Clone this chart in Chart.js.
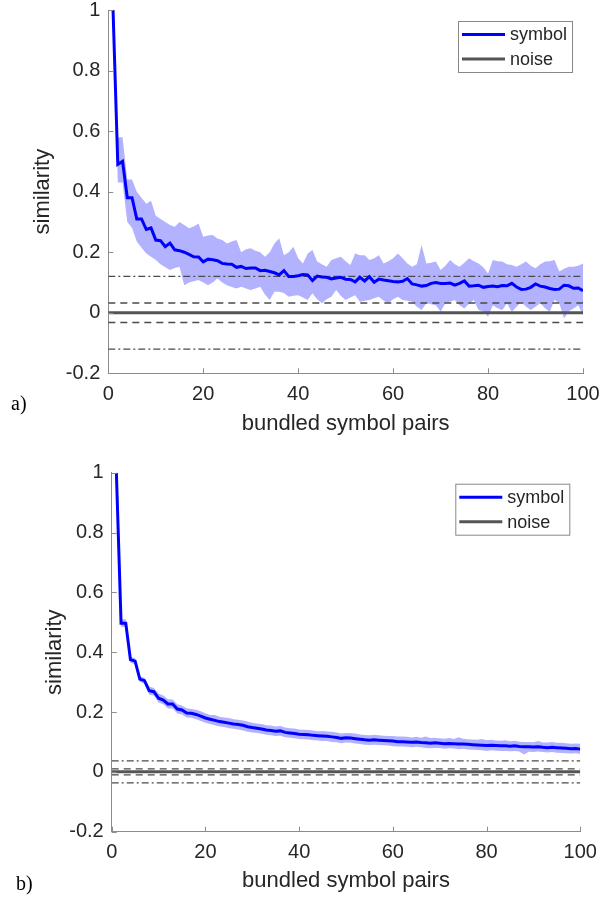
<!DOCTYPE html>
<html>
<head>
<meta charset="utf-8">
<script src="https://cdn.jsdelivr.net/npm/chart.js@4"></script>
<style>
  body { margin: 0; background: #fff; }
  #wrap { position: relative; width: 615px; height: 899px; }
  canvas { position: absolute; left: 0; }
  .tag { position: absolute; font-family: "Liberation Serif", serif; font-size: 20px; color: #000; }
</style>
</head>
<body>
<div id="wrap">
  <canvas id="chartA" width="615" height="450" style="top:0"></canvas>
  <canvas id="chartB" width="615" height="449" style="top:450px"></canvas>
  <div class="tag" style="left:11px; top:392px">a)</div>
  <div class="tag" style="left:16px; top:872px">b)</div>
</div>
<script>
// Данные: число пар символов (ось X)
const pairs = Array.from({ length: 100 }, (_, i) => i + 1);
const xTicks = [0, 20, 40, 60, 80, 100];
const yTicks = [-0.2, 0, 0.2, 0.4, 0.6, 0.8, 1];

// Рисунок a) - среднее и границы полосы
const meanA = [1.0, 0.49, 0.50, 0.38, 0.38, 0.31, 0.31, 0.275, 0.28, 0.24,
  0.238, 0.218, 0.23, 0.208, 0.205, 0.2, 0.193, 0.185, 0.184, 0.168,
  0.177, 0.175, 0.172, 0.163, 0.161, 0.16, 0.15, 0.153, 0.146, 0.148,
  0.148, 0.139, 0.14, 0.136, 0.132, 0.125, 0.139, 0.12, 0.12, 0.122,
  0.126, 0.125, 0.106, 0.121, 0.118, 0.117, 0.112, 0.115, 0.117, 0.111,
  0.11, 0.102, 0.117, 0.105, 0.119, 0.101, 0.111, 0.108, 0.106, 0.103,
  0.102, 0.104, 0.113, 0.095, 0.092, 0.088, 0.09, 0.097, 0.1, 0.097,
  0.097, 0.098, 0.091, 0.097, 0.105, 0.088, 0.089, 0.091, 0.084, 0.087,
  0.088, 0.086, 0.09, 0.089, 0.097, 0.085, 0.077, 0.078, 0.084, 0.095,
  0.088, 0.085, 0.08, 0.077, 0.078, 0.091, 0.089, 0.081, 0.082, 0.073];
const upperA = [1.0, 0.58, 0.58, 0.44, 0.44, 0.4, 0.38, 0.36, 0.37, 0.32,
  0.31, 0.3, 0.29, 0.284, 0.3, 0.29, 0.279, 0.285, 0.295, 0.251,
  0.255, 0.257, 0.245, 0.24, 0.229, 0.235, 0.24, 0.2, 0.21, 0.213,
  0.205, 0.2, 0.185, 0.2, 0.229, 0.246, 0.19, 0.2, 0.218, 0.18,
  0.163, 0.196, 0.207, 0.169, 0.16, 0.152, 0.174, 0.18, 0.185, 0.17,
  0.158, 0.196, 0.19, 0.19, 0.174, 0.18, 0.19, 0.163, 0.17, 0.18,
  0.196, 0.18, 0.163, 0.152, 0.16, 0.224, 0.163, 0.165, 0.169, 0.141,
  0.155, 0.174, 0.16, 0.152, 0.165, 0.18, 0.17, 0.163, 0.15, 0.13,
  0.174, 0.17, 0.169, 0.16, 0.158, 0.152, 0.16, 0.169, 0.155, 0.147,
  0.16, 0.169, 0.17, 0.174, 0.136, 0.145, 0.152, 0.152, 0.155, 0.163];
const lowerA = [1.0, 0.43, 0.43, 0.30, 0.28, 0.235, 0.215, 0.196, 0.185, 0.174,
  0.16, 0.15, 0.141, 0.148, 0.152, 0.091, 0.1, 0.104, 0.108, 0.1,
  0.091, 0.1, 0.113, 0.1, 0.091, 0.085, 0.08, 0.086, 0.08, 0.075,
  0.08, 0.086, 0.06, 0.042, 0.069, 0.069, 0.065, 0.053, 0.056, 0.058,
  0.05, 0.042, 0.064, 0.045, 0.031, 0.045, 0.053, 0.075, 0.055, 0.042,
  0.05, 0.058, 0.036, 0.04, 0.042, 0.048, 0.053, 0.04, 0.031, 0.045,
  0.053, 0.042, 0.04, 0.036, 0.02, 0.009, 0.031, 0.028, 0.025, 0.003,
  0.031, 0.036, 0.042, 0.025, 0.014, 0.03, 0.042, 0.009, 0.005, -0.013,
  0.025, 0.015, 0.009, 0.031, 0.003, 0.02, 0.036, 0.02, 0.009, 0.02,
  0.031, 0.015, 0.003, 0.042, 0.031, -0.019, 0.005, 0.014, 0.025, -0.008];
const noiseA = { dashed: 0.032, dashDot: 0.12 };

// Рисунок b)
const meanB = [1.0, 0.497, 0.497, 0.375, 0.37, 0.31, 0.305, 0.271, 0.268, 0.246,
  0.24, 0.227, 0.227, 0.21, 0.207, 0.197, 0.196, 0.192, 0.186, 0.18,
  0.176, 0.172, 0.168, 0.166, 0.163, 0.16, 0.158, 0.156, 0.151, 0.148,
  0.146, 0.143, 0.14, 0.138, 0.136, 0.137, 0.132, 0.13, 0.128, 0.126,
  0.125, 0.124, 0.122, 0.121, 0.12, 0.119, 0.117, 0.115, 0.112, 0.114,
  0.113, 0.111, 0.109, 0.107, 0.106, 0.107, 0.106, 0.105, 0.104, 0.103,
  0.101, 0.101, 0.1, 0.099, 0.1, 0.098, 0.097, 0.096, 0.097, 0.096,
  0.094, 0.095, 0.094, 0.093, 0.093, 0.092, 0.091, 0.09, 0.089, 0.088,
  0.089, 0.088, 0.087, 0.087, 0.086, 0.087, 0.085, 0.084, 0.084, 0.083,
  0.084, 0.082, 0.081, 0.082, 0.081, 0.08, 0.079, 0.077, 0.078, 0.076];
const upperB = [1.0, 0.51, 0.51, 0.385, 0.38, 0.32, 0.315, 0.285, 0.28, 0.262,
  0.255, 0.243, 0.242, 0.226, 0.222, 0.213, 0.21, 0.208, 0.203, 0.196,
  0.19, 0.19, 0.184, 0.182, 0.18, 0.176, 0.174, 0.172, 0.168, 0.164,
  0.162, 0.16, 0.156, 0.155, 0.152, 0.153, 0.148, 0.146, 0.145, 0.142,
  0.141, 0.14, 0.138, 0.136, 0.137, 0.135, 0.134, 0.132, 0.128, 0.13,
  0.13, 0.128, 0.125, 0.123, 0.122, 0.124, 0.122, 0.121, 0.12, 0.12,
  0.118, 0.118, 0.117, 0.115, 0.117, 0.114, 0.118, 0.113, 0.114, 0.112,
  0.111, 0.113, 0.11, 0.116, 0.111, 0.109, 0.108, 0.107, 0.11, 0.106,
  0.107, 0.105, 0.104, 0.106, 0.102, 0.104, 0.101, 0.1, 0.1, 0.099,
  0.103, 0.098, 0.098, 0.1, 0.097, 0.097, 0.096, 0.094, 0.095, 0.094];
const lowerB = [1.0, 0.485, 0.485, 0.365, 0.36, 0.3, 0.295, 0.258, 0.255, 0.232,
  0.226, 0.212, 0.212, 0.195, 0.192, 0.182, 0.181, 0.176, 0.17, 0.164,
  0.16, 0.156, 0.152, 0.15, 0.146, 0.144, 0.142, 0.138, 0.134, 0.132,
  0.13, 0.127, 0.124, 0.122, 0.12, 0.121, 0.116, 0.114, 0.112, 0.11,
  0.109, 0.108, 0.106, 0.105, 0.103, 0.103, 0.1, 0.099, 0.096, 0.098,
  0.097, 0.095, 0.093, 0.091, 0.09, 0.091, 0.09, 0.089, 0.088, 0.086,
  0.085, 0.085, 0.084, 0.082, 0.084, 0.082, 0.08, 0.079, 0.08, 0.08,
  0.077, 0.079, 0.078, 0.076, 0.077, 0.075, 0.074, 0.073, 0.072, 0.07,
  0.072, 0.071, 0.07, 0.07, 0.069, 0.07, 0.068, 0.058, 0.067, 0.066,
  0.068, 0.066, 0.065, 0.066, 0.064, 0.063, 0.062, 0.061, 0.062, 0.06];
const noiseB = { dashed: 0.01, dashDot: 0.037 };

const legendLabels = ['symbol', 'noise'];
const BLUE = '#0000ff';
const GREY = '#555555';
const AXIS = '#8c8c8c';
const TEXT = '#262626';

// Точки для линии
function pts(vals) {
    return pairs.map((x, i) => ({ x: x, y: vals[i] }));
}
function hline(v) {
    return [{ x: xTicks[0], y: v }, { x: xTicks[xTicks.length - 1], y: v }];
}
function refLine(v, dash, width) {
    return { data: hline(v), borderColor: '#4a4a4a', borderWidth: width, borderDash: dash,
             pointRadius: 0, fill: false };
}

// Засечки внутрь и легенда как в MATLAB
const matlabPlugin = {
    id: 'matlab',
    afterDraw(chart) {
        const ctx = chart.ctx;
        const a = chart.chartArea;
        const xs = chart.scales.x, ys = chart.scales.y;
        ctx.save();
        ctx.strokeStyle = AXIS;
        ctx.lineWidth = 1;
        ctx.beginPath();
        xTicks.forEach(v => {
            const p = Math.round(xs.getPixelForValue(v)) + 0.5;
            ctx.moveTo(p, a.bottom); ctx.lineTo(p, a.bottom - 5);
        });
        yTicks.forEach(v => {
            const p = Math.round(ys.getPixelForValue(v)) + 0.5;
            ctx.moveTo(a.left, p); ctx.lineTo(a.left + 5, p);
        });
        ctx.stroke();

        // легенда
        const w = 114, h = 51;
        const bx = a.right - 11 - w, by = a.top + 11;
        ctx.fillStyle = '#fff';
        ctx.fillRect(bx, by, w, h);
        ctx.strokeStyle = '#888';
        ctx.strokeRect(bx + 0.5, by + 0.5, w, h);
        const colors = [BLUE, GREY];
        ctx.font = '18px "Liberation Sans", Arial, sans-serif';
        ctx.textBaseline = 'middle';
        legendLabels.forEach((lab, i) => {
            const ly = by + 13.5 + i * 24.5;
            ctx.strokeStyle = colors[i];
            ctx.lineWidth = 3;
            ctx.beginPath();
            ctx.moveTo(bx + 4, ly); ctx.lineTo(bx + 47, ly);
            ctx.stroke();
            ctx.fillStyle = TEXT;
            ctx.fillText(lab, bx + 52, ly + 1);
        });
        ctx.restore();
    }
};

function drawChart(id, mean, upper, lower, noise, lay) {
    const ctx = document.getElementById(id).getContext('2d');
    return new Chart(ctx, {
        type: 'line',
        data: {
            datasets: [
                { label: legendLabels[0], data: pts(mean), borderColor: BLUE, borderWidth: 3,
                  pointRadius: 0, fill: false, tension: 0 },
                { label: legendLabels[1], data: hline(0), borderColor: GREY, borderWidth: 3,
                  pointRadius: 0, fill: false },
                refLine(noise.dashed, [7, 5], 1.4),
                refLine(-noise.dashed, [7, 5], 1.4),
                refLine(noise.dashDot, [7, 3, 2, 3], 1.2),
                refLine(-noise.dashDot, [7, 3, 2, 3], 1.2),
                { data: pts(upper), borderWidth: 0, pointRadius: 0,
                  backgroundColor: 'rgba(0,0,255,0.3)', fill: '+1' },
                { data: pts(lower), borderWidth: 0, pointRadius: 0, fill: false }
            ]
        },
        options: {
            responsive: false,
            animation: false,
            layout: { padding: { top: lay.top, right: lay.right, left: 0, bottom: 0 } },
            plugins: { legend: { display: false }, tooltip: { enabled: false } },
            scales: {
                x: {
                    type: 'linear', min: 0, max: 100,
                    afterBuildTicks: s => { s.ticks = xTicks.map(v => ({ value: v })); },
                    afterFit: s => { s.height = lay.xh; s.paddingLeft = 0; s.paddingRight = 0; },
                    grid: { display: false, drawTicks: false },
                    border: { color: AXIS, width: 1 },
                    ticks: { color: TEXT, padding: 9, maxRotation: 0,
                             font: { family: '"Liberation Sans", Arial', size: 20 } },
                    title: { display: true, text: 'bundled symbol pairs', color: TEXT,
                             padding: { top: 0, bottom: lay.xtb },
                             font: { family: '"Liberation Sans", Arial', size: 22 } }
                },
                y: {
                    type: 'linear', min: -0.2, max: 1,
                    afterBuildTicks: s => { s.ticks = yTicks.map(v => ({ value: v })); },
                    afterFit: s => { s.width = lay.yw; s.paddingTop = 0; s.paddingBottom = 0; },
                    grid: { display: false, drawTicks: false },
                    border: { color: AXIS, width: 1 },
                    ticks: { color: TEXT, padding: 8,
                             callback: v => String(Math.round(v * 10) / 10),
                             font: { family: '"Liberation Sans", Arial', size: 20 } },
                    title: { display: true, text: 'similarity', color: TEXT,
                             padding: { top: lay.ytp, bottom: 0 },
                             font: { family: '"Liberation Sans", Arial', size: 22 } }
                }
            }
        },
        plugins: [matlabPlugin]
    });
}

document.addEventListener('DOMContentLoaded', function() {
    drawChart('chartA', meanA, upperA, lowerA, noiseA,
              { top: 10, right: 32, xh: 76.7, yw: 108.3, xtb: 12.7, ytp: 30 });
    drawChart('chartB', meanB, upperB, lowerB, noiseB,
              { top: 22.7, right: 34.7, xh: 67.3, yw: 111.7, xtb: 5, ytp: 42 });
});
</script>
</body>
</html>
